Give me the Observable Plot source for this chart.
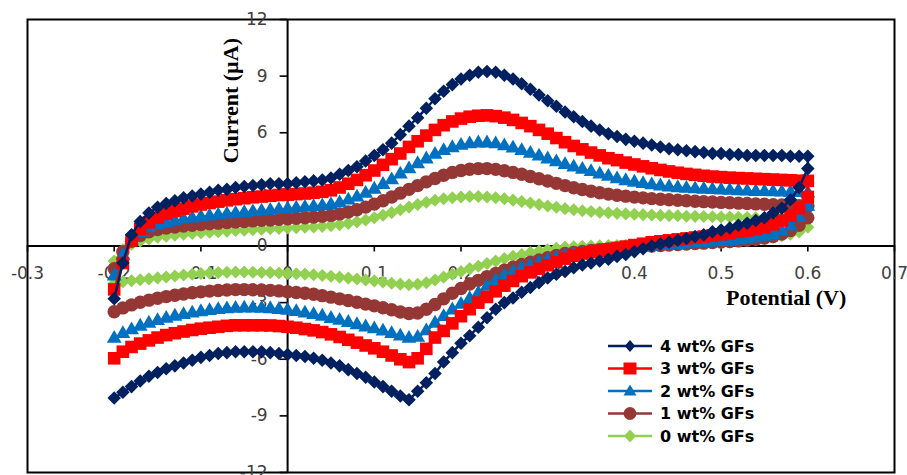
<!DOCTYPE html>
<html><head><meta charset="utf-8">
<script src="https://cdn.jsdelivr.net/npm/d3@7"></script>
<script src="https://cdn.jsdelivr.net/npm/@observablehq/plot@0.6"></script>
<style>html,body{margin:0;padding:0;background:#fff;overflow:hidden}</style>
</head><body><div id="chart"></div>
<script>
// ---------- data ----------
const potentialForward = [-0.20,-0.19,-0.18,-0.17,-0.16,-0.15,-0.14,-0.13,-0.12,-0.11,-0.10,-0.09,-0.08,-0.07,-0.06,-0.05,-0.04,-0.03,-0.02,-0.01,
  0.00,0.01,0.02,0.03,0.04,0.05,0.06,0.07,0.08,0.09,0.10,0.11,0.12,0.13,0.14,0.15,0.16,0.17,0.18,0.19,
  0.20,0.21,0.22,0.23,0.24,0.25,0.26,0.27,0.28,0.29,0.30,0.31,0.32,0.33,0.34,0.35,0.36,0.37,0.38,0.39,
  0.40,0.41,0.42,0.43,0.44,0.45,0.46,0.47,0.48,0.49,0.50,0.51,0.52,0.53,0.54,0.55,0.56,0.57,0.58,0.59,0.60];
const potentialReverse = [0.60,0.59,0.58,0.57,0.56,0.55,0.54,0.53,0.52,0.51,0.50,0.49,0.48,0.47,0.46,0.45,0.44,0.43,0.42,0.41,
  0.40,0.39,0.38,0.37,0.36,0.35,0.34,0.33,0.32,0.31,0.30,0.29,0.28,0.27,0.26,0.25,0.24,0.23,0.22,0.21,
  0.20,0.19,0.18,0.17,0.16,0.15,0.14,0.13,0.12,0.11,0.10,0.09,0.08,0.07,0.06,0.05,0.04,0.03,0.02,0.01,
  0.00,-0.01,-0.02,-0.03,-0.04,-0.05,-0.06,-0.07,-0.08,-0.09,-0.10,-0.11,-0.12,-0.13,-0.14,-0.15,-0.16,-0.17,-0.18,-0.19,-0.20];

// 4 wt% GFs
const gf4Forward = [-2.8,-0.9,0.6,1.3,1.75,2.05,2.25,2.4,2.55,2.65,
  2.75,2.85,2.95,3.0,3.1,3.15,3.2,3.25,3.3,3.3,
  3.3,3.35,3.4,3.45,3.5,3.6,3.8,4.0,4.2,4.5,
  4.8,5.1,5.45,5.9,6.35,6.8,7.3,7.8,8.2,8.55,
  8.85,9.05,9.2,9.25,9.2,9.05,8.85,8.6,8.3,8.0,
  7.7,7.4,7.1,6.85,6.6,6.35,6.15,5.95,5.8,5.65,
  5.55,5.45,5.35,5.25,5.15,5.1,5.05,5.0,4.95,4.9,
  4.9,4.85,4.85,4.8,4.8,4.8,4.8,4.8,4.75,4.75,4.75];
const gf4Reverse = [4.1,3.1,2.45,2.0,1.75,1.5,1.35,1.2,1.1,0.95,
  0.85,0.75,0.6,0.5,0.4,0.3,0.2,0.1,0.0,-0.15,
  -0.3,-0.45,-0.55,-0.7,-0.8,-0.9,-1.0,-1.15,-1.35,-1.5,
  -1.7,-1.95,-2.2,-2.45,-2.75,-3.0,-3.35,-3.8,-4.3,-4.75,
  -5.15,-5.65,-6.15,-6.75,-7.25,-7.7,-8.15,-7.95,-7.7,-7.45,
  -7.2,-6.95,-6.75,-6.55,-6.35,-6.2,-6.05,-5.95,-5.85,-5.8,
  -5.75,-5.7,-5.65,-5.6,-5.6,-5.6,-5.6,-5.65,-5.7,-5.8,
  -5.9,-6.05,-6.2,-6.35,-6.5,-6.7,-6.9,-7.15,-7.45,-7.75,-8.05];

// 3 wt% GFs
const gf3Forward = [-2.3,-0.9,0.3,0.9,1.25,1.5,1.7,1.85,1.98,2.1,
  2.2,2.28,2.35,2.42,2.48,2.53,2.58,2.62,2.66,2.7,
  2.72,2.75,2.78,2.82,2.87,2.95,3.1,3.3,3.5,3.75,
  4.0,4.3,4.6,4.9,5.25,5.55,5.85,6.15,6.4,6.6,
  6.75,6.85,6.9,6.92,6.88,6.8,6.68,6.52,6.35,6.15,
  5.95,5.72,5.5,5.3,5.12,4.95,4.8,4.65,4.55,4.42,
  4.32,4.22,4.12,4.03,3.95,3.88,3.82,3.77,3.72,3.68,
  3.65,3.62,3.6,3.58,3.56,3.54,3.52,3.5,3.48,3.46,3.45];
const gf3Reverse = [2.6,2.0,1.6,1.35,1.15,1.0,0.9,0.82,0.75,0.68,
  0.62,0.56,0.5,0.45,0.4,0.35,0.3,0.25,0.2,0.12,
  0.05,-0.03,-0.1,-0.18,-0.25,-0.33,-0.4,-0.52,-0.67,-0.85,
  -1.02,-1.2,-1.4,-1.6,-1.85,-2.1,-2.4,-2.7,-3.0,-3.35,
  -3.72,-4.1,-4.5,-4.85,-5.45,-5.95,-6.15,-6.0,-5.8,-5.6,
  -5.42,-5.27,-5.12,-4.97,-4.82,-4.68,-4.56,-4.47,-4.4,-4.33,
  -4.28,-4.24,-4.21,-4.2,-4.2,-4.2,-4.2,-4.23,-4.28,-4.33,
  -4.38,-4.45,-4.53,-4.62,-4.72,-4.85,-5.0,-5.17,-5.35,-5.6,-5.95];

// 2 wt% GFs
const gf2Forward = [-1.6,-0.5,0.3,0.7,0.95,1.1,1.22,1.32,1.4,1.47,
  1.53,1.58,1.63,1.68,1.72,1.76,1.8,1.84,1.88,1.92,
  1.96,2.0,2.04,2.08,2.12,2.18,2.28,2.42,2.58,2.78,
  3.0,3.25,3.5,3.8,4.08,4.35,4.6,4.85,5.05,5.2,
  5.32,5.4,5.45,5.45,5.4,5.3,5.18,5.05,4.9,4.75,
  4.6,4.45,4.3,4.17,4.05,3.93,3.8,3.68,3.55,3.45,
  3.37,3.3,3.23,3.17,3.12,3.08,3.05,3.02,3.0,2.98,
  2.96,2.94,2.92,2.9,2.88,2.87,2.86,2.85,2.84,2.82,2.8];
const gf2Reverse = [2.1,1.5,1.05,0.78,0.6,0.5,0.42,0.36,0.31,0.27,
  0.23,0.2,0.17,0.14,0.1,0.07,0.04,0.01,-0.03,-0.07,
  -0.11,-0.15,-0.2,-0.25,-0.3,-0.36,-0.42,-0.48,-0.55,-0.65,
  -0.77,-0.9,-1.05,-1.2,-1.38,-1.58,-1.85,-2.15,-2.5,-2.8,
  -3.1,-3.4,-3.75,-4.1,-4.5,-4.85,-4.9,-4.78,-4.65,-4.52,
  -4.4,-4.3,-4.18,-4.06,-3.95,-3.85,-3.73,-3.64,-3.56,-3.48,
  -3.42,-3.37,-3.33,-3.31,-3.3,-3.3,-3.31,-3.34,-3.38,-3.43,
  -3.49,-3.56,-3.64,-3.73,-3.84,-3.96,-4.1,-4.26,-4.45,-4.65,-4.9];

// 1 wt% GFs
const gf1Forward = [-1.2,-0.3,0.25,0.55,0.75,0.87,0.95,1.01,1.06,1.1,
  1.14,1.18,1.21,1.24,1.27,1.3,1.33,1.36,1.38,1.41,
  1.44,1.47,1.5,1.53,1.57,1.62,1.7,1.8,1.92,2.06,
  2.22,2.4,2.6,2.8,3.0,3.2,3.4,3.58,3.75,3.9,
  4.0,4.07,4.1,4.1,4.06,3.99,3.9,3.8,3.68,3.56,
  3.44,3.32,3.2,3.09,2.99,2.9,2.82,2.75,2.69,2.64,
  2.59,2.55,2.51,2.48,2.45,2.42,2.4,2.37,2.35,2.33,
  2.31,2.29,2.27,2.25,2.23,2.21,2.19,2.17,2.15,2.13,2.1];
const gf1Reverse = [1.5,1.1,0.82,0.63,0.5,0.42,0.36,0.31,0.27,0.24,
  0.21,0.18,0.15,0.13,0.1,0.08,0.05,0.03,0.0,-0.02,
  -0.05,-0.08,-0.11,-0.15,-0.19,-0.24,-0.29,-0.34,-0.4,-0.5,
  -0.62,-0.74,-0.86,-0.98,-1.12,-1.28,-1.45,-1.62,-1.82,-2.02,
  -2.25,-2.5,-2.8,-3.1,-3.35,-3.55,-3.58,-3.5,-3.38,-3.27,
  -3.17,-3.08,-2.98,-2.89,-2.8,-2.71,-2.63,-2.56,-2.5,-2.46,
  -2.42,-2.38,-2.35,-2.33,-2.32,-2.31,-2.31,-2.33,-2.36,-2.39,
  -2.43,-2.48,-2.54,-2.61,-2.68,-2.77,-2.87,-2.98,-3.12,-3.28,-3.48];

// 0 wt% GFs
const gf0Forward = [-0.8,-0.2,0.1,0.27,0.38,0.46,0.52,0.57,0.62,0.66,
  0.7,0.73,0.76,0.79,0.82,0.84,0.87,0.89,0.91,0.93,
  0.95,0.97,0.99,1.01,1.04,1.08,1.13,1.2,1.28,1.38,
  1.5,1.63,1.77,1.92,2.06,2.2,2.32,2.42,2.5,2.56,
  2.6,2.62,2.62,2.6,2.56,2.5,2.43,2.36,2.28,2.2,
  2.12,2.05,1.98,1.92,1.87,1.83,1.79,1.76,1.73,1.7,
  1.68,1.66,1.64,1.62,1.61,1.6,1.58,1.57,1.56,1.55,
  1.54,1.53,1.52,1.51,1.5,1.49,1.48,1.47,1.46,1.45,1.44];
const gf0Reverse = [1.0,0.75,0.62,0.55,0.47,0.4,0.34,0.29,0.25,0.22,
  0.19,0.17,0.15,0.13,0.12,0.1,0.09,0.08,0.07,0.06,
  0.05,0.04,0.03,0.02,0.01,0.0,-0.02,-0.04,-0.06,-0.12,
  -0.2,-0.27,-0.35,-0.45,-0.55,-0.67,-0.8,-0.93,-1.07,-1.2,
  -1.35,-1.5,-1.65,-1.8,-1.95,-2.03,-2.05,-2.02,-1.97,-1.91,
  -1.85,-1.8,-1.75,-1.7,-1.65,-1.6,-1.56,-1.52,-1.49,-1.47,
  -1.45,-1.43,-1.41,-1.4,-1.39,-1.38,-1.38,-1.39,-1.41,-1.43,
  -1.46,-1.5,-1.54,-1.59,-1.64,-1.69,-1.74,-1.79,-1.84,-1.9,-1.99];

const seriesNames = ["4 wt% GFs","3 wt% GFs","2 wt% GFs","1 wt% GFs","0 wt% GFs"];
const forwardValues = [gf4Forward, gf3Forward, gf2Forward, gf1Forward, gf0Forward];
const reverseValues = [gf4Reverse, gf3Reverse, gf2Reverse, gf1Reverse, gf0Reverse];

const xTicks = [-0.3,-0.2,-0.1,0,0.1,0.2,0.3,0.4,0.5,0.6,0.7];
const xTickLabels = ["-0.3","-0.2","-0.1","0","0.1","0.2","0.3","0.4","0.5","0.6","0.7"];
const yTicks = [-12,-9,-6,-3,0,3,6,9,12];
const yTickLabels = ["-12","-9","-6","-3","0","3","6","9","12"];
const xTitle = "Potential (V)";
const yTitle = "Current (µA)";

// ---------- styles / layout ----------
const seriesColors = ["#002060","#FF0000","#0070C0","#953735","#92D050"];
const seriesSymbols = ["diamond2","square","triangle","circle","diamond2"];
const seriesRadius = [6.1, 7.1, 5.5, 6.7, 5.9];
const W = 907, H = 475;
const M = {top: 19, right: 13, bottom: 3, left: 27};
const xDomain = [-0.3, 0.7], yDomain = [-12, 12];
const pxPerX = (W - M.left - M.right) / (xDomain[1] - xDomain[0]);
const pxPerY = (H - M.top - M.bottom) / (yDomain[1] - yDomain[0]);
const tickFont = "DejaVu Sans";
const titleFont = "Liberation Serif, Times New Roman, serif";

const rows = seriesNames.map((name, s) => [
  ...potentialForward.map((p, i) => ({series: name, potential: p, current: forwardValues[s][i]})),
  ...potentialReverse.map((p, i) => ({series: name, potential: p, current: reverseValues[s][i]}))
]);

const dataMarks = [];
for (let s = seriesNames.length - 1; s >= 0; s--) {
  dataMarks.push(Plot.line(rows[s], {x: "potential", y: "current", stroke: seriesColors[s], strokeWidth: 2.5}));
  dataMarks.push(Plot.dot(rows[s], {x: "potential", y: "current", symbol: seriesSymbols[s], r: seriesRadius[s], fill: seriesColors[s], stroke: "none"}));
}

const chart = Plot.plot({
  width: W, height: H,
  marginTop: M.top, marginRight: M.right, marginBottom: M.bottom, marginLeft: M.left,
  style: {background: "white", fontFamily: tickFont, overflow: "visible"},
  x: {domain: xDomain, axis: null},
  y: {domain: yDomain, axis: null},
  marks: [
    Plot.frame({stroke: "black", strokeWidth: 2}),
    Plot.ruleY([0], {stroke: "black", strokeWidth: 2}),
    Plot.ruleX([0], {stroke: "black", strokeWidth: 2}),
    Plot.ruleX(xTicks, {x: d => d, y1: 0, y2: -6 / pxPerY, stroke: "black", strokeWidth: 1.6}),
    Plot.ruleY(yTicks, {y: d => d, x1: 0, x2: -7.5 / pxPerX, stroke: "black", strokeWidth: 1.6}),
    Plot.text(xTicks, {x: d => d, y: 0, text: (d, i) => xTickLabels[i], dy: 28, fontSize: 17, fill: "#404040", lineAnchor: "middle"}),
    Plot.text(yTicks, {x: 0, y: d => d, text: (d, i) => yTickLabels[i], dx: -20, textAnchor: "end", fontSize: 17, fill: "#404040", lineAnchor: "middle"}),
    Plot.text([yTitle], {x: -0.065, y: 7.7, text: d => d, rotate: -90, fontFamily: titleFont, fontWeight: "bold", fontSize: 22, fill: "black", lineAnchor: "middle"}),
    Plot.text([xTitle], {x: 0.575, y: -2.77, text: d => d, fontFamily: titleFont, fontWeight: "bold", fontSize: 22, fill: "black", lineAnchor: "middle"}),
    ...dataMarks
  ]
});
document.getElementById("chart").appendChild(chart);

// ---------- legend ----------
const legend = {x0: 608, x1: 652, xm: 630, xt: 660, y0: 346, dy: 22.5};
const legendShapes = [
  `M0,-6L5.2,0L0,6L-5.2,0Z`,
  `M-6.5,-6H6.5V6H-6.5Z`,
  `M0,-6.5L6.5,4.5H-6.5Z`,
  `M6.4,0A6.4,6.4 0 1,1 -6.4,0A6.4,6.4 0 1,1 6.4,0Z`,
  `M0,-6.4L6,0L0,6.4L-6,0Z`
];
const svg = d3.select(chart);
const lg = svg.append("g").attr("text-anchor", "start");
seriesNames.forEach((name, s) => {
  const y = legend.y0 + s * legend.dy;
  lg.append("line").attr("x1", legend.x0).attr("x2", legend.x1).attr("y1", y).attr("y2", y)
    .attr("stroke", seriesColors[s]).attr("stroke-width", 2.6);
  lg.append("path").attr("d", legendShapes[s]).attr("transform", `translate(${legend.xm},${y})`)
    .attr("fill", seriesColors[s]);
  lg.append("text").attr("x", legend.xt).attr("y", y).attr("dy", "0.36em")
    .attr("text-anchor", "start")
    .attr("font-family", "DejaVu Sans").attr("font-weight", "bold").attr("font-size", 16)
    .attr("fill", "black").text(name);
});
</script>
</body></html>
